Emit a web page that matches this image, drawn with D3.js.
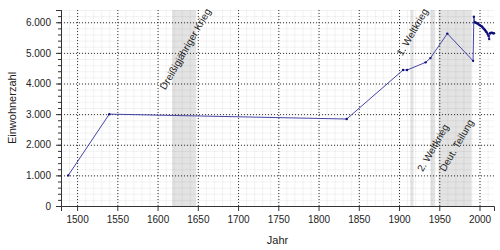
<!DOCTYPE html>
<html>
<head>
<meta charset="utf-8">
<script src="https://cdn.jsdelivr.net/npm/d3@7"></script>
<style>
  body { margin: 0; background: #fff; }
  svg { font-family: "Liberation Sans", Arial, sans-serif; }
</style>
</head>
<body>
<div id="chart"></div>
<script>
// Einwohnerzahl je Jahr
var years = [1489, 1540, 1835, 1905, 1910, 1933, 1939, 1960, 1992,
    1993, 1994, 1995, 1996, 1997, 1998, 1999, 2000, 2001, 2002, 2003, 2004, 2005,
    2006, 2007, 2008, 2009, 2010, 2011, 2012, 2013, 2014, 2015, 2016, 2017, 2018];
var population = [1000, 3000, 2840, 4440, 4440, 4690, 4830, 5630, 4740,
    6180, 6000, 5990, 5975, 5965, 5955, 5930, 5910, 5895, 5875, 5860, 5830, 5800,
    5775, 5740, 5700, 5670, 5620, 5560, 5450, 5640, 5650, 5660, 5650, 5640, 5640];

// Zeitabschnitte (grau hinterlegt)
var bandStart = [1618, 1914, 1939, 1949];
var bandEnd = [1648, 1918, 1945, 1990];
var bandLabel = ["Dreißigjähriger Krieg", "1. Weltkrieg", "2. Weltkrieg", "Deut. Teilung"];
var bandLabelSide = ["top", "top", "bottom", "bottom"];

var yTicks = [0, 1000, 2000, 3000, 4000, 5000, 6000];
var xTicks = [1500, 1550, 1600, 1650, 1700, 1750, 1800, 1850, 1900, 1950, 2000];

var data = years.map(function (d, i) { return { year: d, value: population[i] }; });

// set the dimensions and margins of the graph
var margin = { top: 10, right: 6, bottom: 44, left: 61 },
    width = 500 - margin.left - margin.right,
    height = 250 - margin.top - margin.bottom;

var svg = d3.select("#chart")
    .append("svg")
    .attr("width", 500)
    .attr("height", 250)
    .append("g")
    .attr("transform", "translate(" + margin.left + "," + margin.top + ")");

var x = d3.scaleLinear().domain([1480, 2018]).range([0, width]);
var y = d3.scaleLinear().domain([0, 6400]).range([height, 0]);

var de = d3.formatLocale({ decimal: ",", thousands: ".", grouping: [3], currency: ["", " €"] });
var fmt = de.format(",d");

// bands
svg.selectAll(".band").data(bandStart)
    .enter().append("rect")
    .attr("class", "band")
    .attr("x", function (d) { return x(d); })
    .attr("y", 0)
    .attr("width", function (d, i) { return x(bandEnd[i]) - x(d); })
    .attr("height", height)
    .attr("fill", "#e3e3e3");

// minor grid
svg.append("g")
    .attr("transform", "translate(0," + height + ")")
    .call(d3.axisBottom(x).tickValues(d3.range(1480, 2019, 10)).tickSize(-height).tickFormat(""))
    .call(function (g) { g.select(".domain").remove(); })
    .selectAll("line").attr("stroke", "#000").attr("stroke-opacity", 0.06);

svg.append("g")
    .call(d3.axisLeft(y).tickValues(d3.range(0, 6401, 200)).tickSize(-width).tickFormat(""))
    .call(function (g) { g.select(".domain").remove(); })
    .selectAll("line").attr("stroke", "#000").attr("stroke-opacity", 0.06);

// major grid (dotted)
svg.append("g")
    .attr("transform", "translate(0," + height + ")")
    .call(d3.axisBottom(x).tickValues(xTicks).tickSize(-height).tickFormat(""))
    .call(function (g) { g.select(".domain").remove(); })
    .selectAll("line").attr("stroke", "#cdcdcd").attr("stroke-dasharray", "1,2");

svg.append("g")
    .call(d3.axisLeft(y).tickValues(yTicks.slice(1)).tickSize(-width).tickFormat(""))
    .call(function (g) { g.select(".domain").remove(); })
    .selectAll("line").attr("stroke", "#cdcdcd").attr("stroke-dasharray", "1,2");

// band labels
svg.selectAll(".bandLabel").data(bandLabel)
    .enter().append("text")
    .attr("class", "bandLabel")
    .attr("font-size", "10px")
    .attr("fill", "#222")
    .attr("text-anchor", function (d, i) { return bandLabelSide[i] == "top" ? "end" : "start"; })
    .attr("transform", function (d, i) {
        var px, py;
        if (bandLabelSide[i] == "top") {
            px = x(bandEnd[i]) + 15;
            py = 1;
        } else {
            px = x((bandStart[i] + bandEnd[i]) / 2) - 10;
            py = y(1100);
        }
        return "translate(" + px + "," + py + ") rotate(-60)";
    })
    .text(function (d) { return d; });

// line
svg.append("path")
    .datum(data)
    .attr("fill", "none")
    .attr("stroke", "#4545aa")
    .attr("stroke-width", 1)
    .attr("d", d3.line()
        .x(function (d) { return x(d.year); })
        .y(function (d) { return y(d.value); }));

svg.selectAll(".dot").data(data)
    .enter().append("circle")
    .attr("class", "dot")
    .attr("cx", function (d) { return x(d.year); })
    .attr("cy", function (d) { return y(d.value); })
    .attr("r", 1.2)
    .attr("fill", "#10107a");

// axes
var xAxis = svg.append("g")
    .attr("transform", "translate(0," + height + ")");
xAxis.call(d3.axisBottom(x).tickValues(d3.range(1480, 2019, 10)).tickSize(3).tickFormat(""));
xAxis.call(d3.axisBottom(x).tickValues(xTicks).tickSize(5).tickPadding(5).tickFormat(d3.format("d")));

var yAxis = svg.append("g");
yAxis.call(d3.axisLeft(y).tickValues(d3.range(0, 6401, 200)).tickSize(3).tickFormat(""));
yAxis.append("g").call(d3.axisLeft(y).tickValues(yTicks).tickSize(5).tickPadding(5).tickFormat(fmt));

svg.selectAll(".tick text").attr("font-size", "10px").attr("fill", "#222")
    .attr("font-family", "Liberation Sans, Arial, sans-serif");
svg.selectAll(".domain, .tick line").attr("stroke", "#333");

// axis titles
svg.append("text")
    .attr("x", width / 2)
    .attr("y", height + 38)
    .attr("text-anchor", "middle")
    .attr("font-size", "11px")
    .attr("fill", "#222")
    .text("Jahr");

svg.append("text")
    .attr("transform", "rotate(-90)")
    .attr("x", -height / 2)
    .attr("y", -45)
    .attr("text-anchor", "middle")
    .attr("font-size", "11px")
    .attr("fill", "#222")
    .text("Einwohnerzahl");
</script>
</body>
</html>
